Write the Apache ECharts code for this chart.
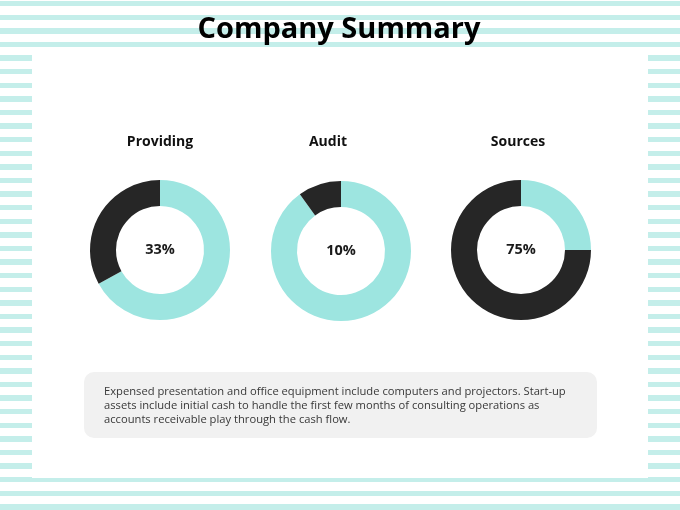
<!DOCTYPE html>
<html lang="en">
<head>
	<meta charset="UTF-8">
	<title>Company Summary</title>
	<script src="https://cdn.jsdelivr.net/npm/echarts@6/dist/echarts.min.js"></script>
	<style>
		html, body { margin: 0; padding: 0; }
		body {
			width: 680px; height: 510px; position: relative; overflow: hidden;
			background: repeating-linear-gradient(to bottom, #ffffff 0px, #ffffff 1px, #c4eeea 1px, #c4eeea 6.3px, #ffffff 6.3px, #ffffff 13.6px);
		}
		#panel { position: absolute; left: 32px; top: 47px; width: 616px; height: 431px; background: #fff; }
		#summary_chart { position: absolute; left: 0; top: 0; width: 680px; height: 510px; }
	</style>
</head>
<body>
	<div id="panel"></div>
	<div id="summary_chart"></div>

	<script type="text/javascript">
		// data
		var names = ['Providing', 'Audit', 'Sources'];
		var percents = [33, 10, 75];
		var centers = [[160, 250], [341, 251], [521, 250]];
		var titleX = [160, 328, 518];
		var note = 'Expensed presentation and office equipment include computers and projectors. Start-up\n' +
			'assets include initial cash to handle the first few months of consulting operations as\n' +
			'accounts receivable play through the cash flow.';

		var teal = '#9de5e0';
		var dark = '#262626';
		var font = '"Open Sans", sans-serif';

		var chart = echarts.init(document.getElementById('summary_chart'), null, {renderer: 'canvas'});

		// title boxes have 5px padding, shift left by it
		var titles = [{
			text: 'Company Summary',
			left: 334, top: 10,
			textAlign: 'center',
			textStyle: {fontSize: 29, fontWeight: 'bold', color: '#000', fontFamily: font}
		}];
		var series = [];
		for (var i = 0; i < names.length; i++) {
			titles.push({
				text: names[i],
				left: titleX[i] - 5, top: 130,
				textAlign: 'center',
				textStyle: {fontSize: 14, fontWeight: 'bold', color: '#111', fontFamily: font}
			});
			series.push({
				type: 'pie',
				center: centers[i],
				radius: [44, 70],
				startAngle: 90,
				clockwise: true,
				silent: true,
				label: {show: false},
				labelLine: {show: false},
				data: [
					{value: 100 - percents[i], name: 'rest', itemStyle: {color: teal}},
					{value: percents[i], name: names[i], itemStyle: {color: dark},
						label: {show: true, position: 'center', formatter: percents[i] + '%',
							fontSize: 14.5, fontWeight: 'bold', color: '#1a1a1a', fontFamily: font}}
				]
			});
		}

		var option = {
			animation: false,
			backgroundColor: 'transparent',
			title: titles,
			series: series,
			graphic: [
				{
					type: 'rect',
					shape: {x: 84, y: 372, width: 513, height: 66, r: 10},
					style: {fill: '#f1f1f1'}
				},
				{
					type: 'text',
					x: 104, y: 385,
					style: {text: note, fontSize: 11.2, lineHeight: 14, fill: '#383838', fontFamily: font}
				}
			]
		};

		chart.setOption(option);
	</script>
</body>
</html>
